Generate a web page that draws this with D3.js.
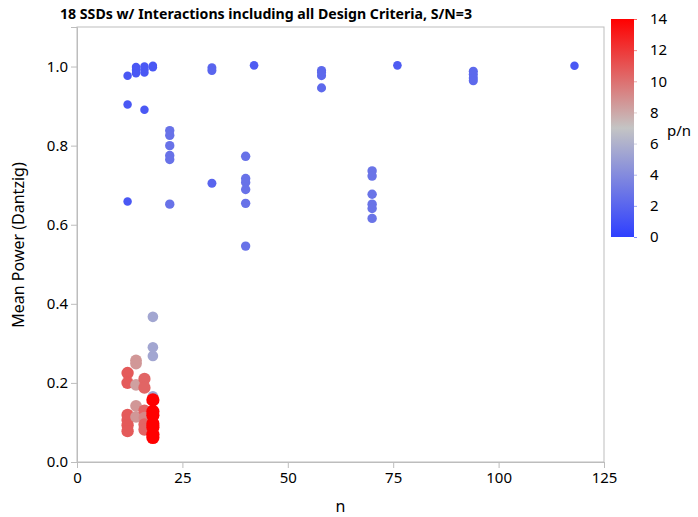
<!DOCTYPE html>
<html>
<head>
<meta charset="utf-8">
<script src="https://cdn.jsdelivr.net/npm/d3@7"></script>
<style>
  html, body { margin: 0; padding: 0; background: #fff; }
  svg text { font-family: "Noto Sans", "Open Sans", sans-serif; fill: #000; }
</style>
</head>
<body>
<svg id="chart" width="698" height="517"></svg>
<script>
// Mean power (Dantzig) of each SSD against run size n, coloured and sized by p/n.
const runSizes = [
  12, 12, 12, 14, 14, 14, 16, 16, 16, 16, 18, 18,
  22, 22, 22, 22, 22, 22,
  32, 32, 32,
  40, 40, 40, 40, 40, 40,
  42,
  58, 58, 58, 58,
  70, 70, 70, 70, 70, 70,
  76,
  94, 94, 94, 94,
  118,
  12, 12, 12, 12, 12, 12,
  14, 14, 14, 14, 14,
  16, 16, 16, 16, 16, 16,
  18, 18, 18, 18,
  18, 18, 18, 18, 18, 18, 18
];
const meanPower = [
  0.977, 0.904, 0.659, 0.999, 0.991, 0.983, 1.000, 0.993, 0.985, 0.891, 1.002, 0.998,
  0.838, 0.826, 0.800, 0.775, 0.765, 0.652,
  0.997, 0.990, 0.705,
  0.773, 0.717, 0.707, 0.689, 0.654, 0.546,
  1.003,
  0.990, 0.985, 0.977, 0.946,
  0.736, 0.723, 0.677, 0.652, 0.641, 0.616,
  1.003,
  0.988, 0.980, 0.971, 0.964,
  1.002,
  0.225, 0.200, 0.119, 0.106, 0.093, 0.078,
  0.257, 0.249, 0.195, 0.142, 0.114,
  0.210, 0.188, 0.130, 0.112, 0.095, 0.082,
  0.367, 0.290, 0.268, 0.166,
  0.157, 0.128, 0.118, 0.097, 0.088, 0.070, 0.062
];
const pOverN = [
  1.3, 1.3, 1.3, 1.3, 1.3, 1.3, 1.3, 1.3, 1.3, 1.3, 1.3, 1.3,
  2.7, 2.7, 2.7, 2.7, 2.7, 2.7,
  2.0, 2.0, 2.0,
  2.7, 2.7, 2.7, 2.7, 2.7, 2.7,
  1.5,
  2.2, 2.2, 2.2, 2.2,
  2.8, 2.8, 2.8, 2.8, 2.8, 2.8,
  1.5,
  2.2, 2.2, 2.2, 2.2,
  1.3,
  10.8, 10.8, 10.8, 10.8, 10.8, 10.8,
  8.6, 8.6, 8.3, 8.6, 8.6,
  10.4, 10.4, 10.4, 9.2, 10.4, 10.4,
  5.4, 5.4, 5.4, 5.4,
  14, 14, 14, 14, 14, 14, 14
];

const xTicks = [0, 25, 50, 75, 100, 125];
const yTicks = [0, 0.2, 0.4, 0.6, 0.8, 1.0];
const legendTicks = [0, 2, 4, 6, 8, 10, 12, 14];

const titleText = "18 SSDs w/ Interactions including all Design Criteria, S/N=3";
const xLabel = "n";
const yLabel = "Mean Power (Dantzig)";
const legendLabel = "p/n";

const svg = d3.select("#chart");
const frame = { left: 77, right: 604, top: 27, bottom: 462 };
const axisGrey = "#bdbdbd";

const x = d3.scaleLinear().domain([0, 125]).range([frame.left, frame.right]);
const y = d3.scaleLinear().domain([0, 1.1]).range([frame.bottom, frame.top]);
const color = d3.scaleLinear()
  .domain([0, 7, 14])
  .range(["#2e3fff", "#c4c4c4", "#ff0000"])
  .interpolate(d3.interpolateRgb);
const radius = d3.scaleSqrt().domain([0, 14]).range([3.2, 6.6]);

// plot frame
svg.append("rect")
  .attr("x", frame.left).attr("y", frame.top)
  .attr("width", frame.right - frame.left).attr("height", frame.bottom - frame.top)
  .attr("fill", "none").attr("stroke", axisGrey).attr("stroke-width", 1);

// axes
const xAxis = svg.append("g")
  .attr("transform", `translate(0,${frame.bottom})`)
  .call(d3.axisBottom(x).tickValues(xTicks).tickSize(6).tickPadding(4).tickFormat(d3.format("d")));
const yAxis = svg.append("g")
  .attr("transform", `translate(${frame.left},0)`)
  .call(d3.axisLeft(y).tickValues(yTicks).tickSize(6).tickPadding(3).tickFormat(d3.format(".1f")));
[xAxis, yAxis].forEach(g => {
  g.select(".domain").attr("stroke", axisGrey);
  g.selectAll(".tick line").attr("stroke", axisGrey);
  g.selectAll(".tick text").style("font-size", "15px").attr("fill", "#000");
});

// points
const points = runSizes.map((n, i) => ({ n, power: meanPower[i], pn: pOverN[i] }));
svg.append("g")
  .selectAll("circle")
  .data(points)
  .join("circle")
  .attr("cx", d => x(d.n))
  .attr("cy", d => y(d.power))
  .attr("r", d => radius(d.pn))
  .attr("fill", d => color(d.pn));

// title and axis labels
const title = svg.append("text")
  .attr("x", 60).attr("y", 19)
  .style("font-size", "14.5px").style("font-weight", "bold")
  .text(titleText);
const tw = title.node().getComputedTextLength();
if (tw > 412) title.attr("textLength", 412).attr("lengthAdjust", "spacingAndGlyphs");

svg.append("text")
  .attr("x", x(62.5)).attr("y", 512)
  .attr("text-anchor", "middle")
  .style("font-size", "16px")
  .text(xLabel);

svg.append("text")
  .attr("transform", `translate(24,245) rotate(-90)`)
  .attr("text-anchor", "middle")
  .style("font-size", "16px")
  .text(yLabel);

// colour legend
const legend = { x: 611, width: 23, top: 19, bottom: 237 };
const ly = d3.scaleLinear().domain([0, 14]).range([legend.bottom, legend.top]);
const grad = svg.append("defs").append("linearGradient")
  .attr("id", "pnGradient")
  .attr("x1", 0).attr("y1", 1).attr("x2", 0).attr("y2", 0);
[0, 7, 14].forEach(v => {
  grad.append("stop").attr("offset", v / 14).attr("stop-color", color(v));
});
svg.append("rect")
  .attr("x", legend.x).attr("y", legend.top)
  .attr("width", legend.width).attr("height", legend.bottom - legend.top)
  .attr("fill", "url(#pnGradient)");
const lAxis = svg.append("g")
  .attr("transform", `translate(${legend.x + legend.width},0)`)
  .call(d3.axisRight(ly).tickValues(legendTicks).tickSize(3).tickPadding(13).tickFormat(d3.format("d")));
lAxis.select(".domain").remove();
lAxis.selectAll(".tick line").attr("stroke", d => color(d)).attr("stroke-opacity", 0.6);
lAxis.selectAll(".tick text").style("font-size", "15px").attr("fill", "#000");

svg.append("text")
  .attr("x", 667).attr("y", 136)
  .style("font-size", "15px")
  .text(legendLabel);
</script>
</body>
</html>
